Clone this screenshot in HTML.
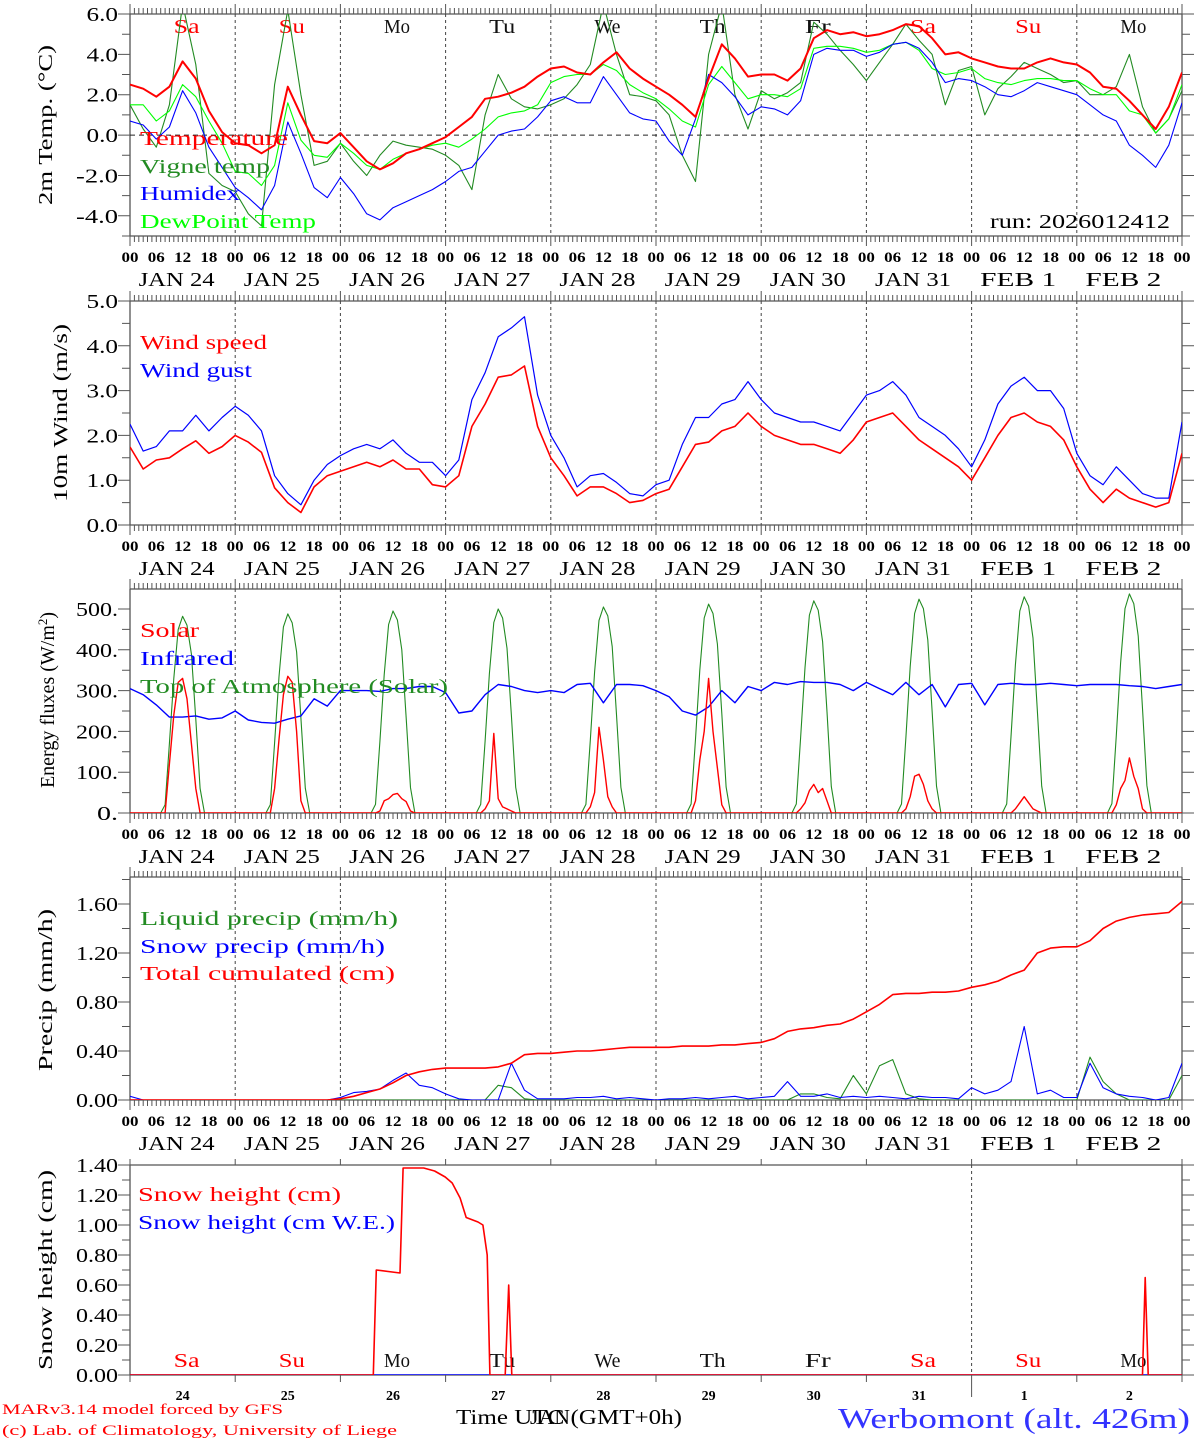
<!DOCTYPE html>
<html><head><meta charset="utf-8"><title>MAR forecast Werbomont</title>
<style>
html,body{margin:0;padding:0;background:#fff;}
svg{display:block;font-family:"Liberation Serif",serif;}
</style></head>
<body>
<svg id="chart" width="1194" height="1440" viewBox="0 0 1194 1440" xmlns="http://www.w3.org/2000/svg">
<rect x="0" y="0" width="1194" height="1440" fill="#fff"/>
<g id="layer"></g>
<!-- axis titles -->
<text transform="translate(52,125) rotate(-90)" text-anchor="middle" font-size="20" textLength="160" lengthAdjust="spacingAndGlyphs">2m Temp. (°C)</text>
<text transform="translate(67,413) rotate(-90)" text-anchor="middle" font-size="20" textLength="178" lengthAdjust="spacingAndGlyphs">10m Wind (m/s)</text>
<text transform="translate(54,700) rotate(-90)" text-anchor="middle" font-size="20">Energy fluxes (W/m<tspan baseline-shift="super" font-size="13">2</tspan>)</text>
<text transform="translate(52,990) rotate(-90)" text-anchor="middle" font-size="20" textLength="162" lengthAdjust="spacingAndGlyphs">Precip (mm/h)</text>
<text transform="translate(52,1270) rotate(-90)" text-anchor="middle" font-size="20" textLength="200" lengthAdjust="spacingAndGlyphs">Snow height (cm)</text>
<!-- legends -->
<g font-size="20">
<text x="140" y="145" fill="#ff0000" textLength="148" lengthAdjust="spacingAndGlyphs">Temperature</text>
<text x="140" y="173" fill="#228b22" textLength="130" lengthAdjust="spacingAndGlyphs">Vigne temp</text>
<text x="140" y="200" fill="#0000ff" textLength="100" lengthAdjust="spacingAndGlyphs">Humidex</text>
<text x="140" y="228" fill="#00ff00" textLength="176" lengthAdjust="spacingAndGlyphs">DewPoint Temp</text>
<text x="990" y="228" fill="#000" textLength="180" lengthAdjust="spacingAndGlyphs">run: 2026012412</text>
</g>
<g font-size="20">
<text x="140" y="349" fill="#ff0000" textLength="127" lengthAdjust="spacingAndGlyphs">Wind speed</text>
<text x="140" y="377" fill="#0000ff" textLength="112" lengthAdjust="spacingAndGlyphs">Wind gust</text>
</g>
<g font-size="20">
<text x="140" y="637" fill="#ff0000" textLength="59" lengthAdjust="spacingAndGlyphs">Solar</text>
<text x="140" y="665" fill="#0000ff" textLength="94" lengthAdjust="spacingAndGlyphs">Infrared</text>
<text x="140" y="693" fill="#228b22" textLength="308" lengthAdjust="spacingAndGlyphs">Top of Atmosphere (Solar)</text>
</g>
<g font-size="20">
<text x="140" y="925" fill="#228b22" textLength="258" lengthAdjust="spacingAndGlyphs">Liquid precip (mm/h)</text>
<text x="140" y="953" fill="#0000ff" textLength="245" lengthAdjust="spacingAndGlyphs">Snow precip (mm/h)</text>
<text x="140" y="980" fill="#ff0000" textLength="255" lengthAdjust="spacingAndGlyphs">Total cumulated (cm)</text>
</g>
<g font-size="20">
<text x="138" y="1201" fill="#ff0000" textLength="203" lengthAdjust="spacingAndGlyphs">Snow height (cm)</text>
<text x="138" y="1229" fill="#0000ff" textLength="257" lengthAdjust="spacingAndGlyphs">Snow height (cm W.E.)</text>
</g>
<!-- footer -->
<text x="2" y="1414" font-size="15" fill="#ff0000" textLength="281" lengthAdjust="spacingAndGlyphs">MARv3.14 model forced by GFS</text>
<text x="2" y="1435" font-size="15" fill="#ff0000" textLength="395" lengthAdjust="spacingAndGlyphs">(c) Lab. of Climatology, University of Liege</text>
<text x="456" y="1424" font-size="21" textLength="226" lengthAdjust="spacingAndGlyphs">Time UTC (GMT+0h)</text>
<text x="530" y="1424" font-size="21" textLength="40" lengthAdjust="spacingAndGlyphs">JAN</text>
<text x="838" y="1428" font-size="28" fill="#3333ff" textLength="352" lengthAdjust="spacingAndGlyphs">Werbomont (alt. 426m)</text>
</svg>
<script>
// ---------- data (3-hourly from JAN 24 00 UTC) ----------
const dayLabels = ["JAN  24","JAN  25","JAN  26","JAN  27","JAN  28","JAN  29","JAN  30","JAN  31","FEB   1","FEB   2"];
const dayNames = ["Sa","Su","Mo","Tu","We","Th","Fr","Sa","Su","Mo"];
const dayNumbers = ["24","25","26","27","28","29","30","31","1","2"];
const hourLabels = ["00","06","12","18"];
const tempTicks = ["-4.0","-2.0","0.0","2.0","4.0","6.0"];
const windTicks = ["0.0","1.0","2.0","3.0","4.0","5.0"];
const energyTicks = ["0.","100.","200.","300.","400.","500."];
const precipTicks = ["0.00","0.40","0.80","1.20","1.60"];
const snowTicks = ["0.00","0.20","0.40","0.60","0.80","1.00","1.20","1.40"];

const temperature = [2.5,2.3,1.9,2.4,3.65,2.8,1.2,0.15,
-0.4,-0.5,-0.9,-0.5,2.4,1.0,-0.3,-0.4,
0.1,-0.6,-1.3,-1.7,-1.4,-0.9,-0.7,-0.4,
-0.1,0.4,0.9,1.8,1.9,2.1,2.4,2.9,
3.3,3.4,3.1,3.0,3.6,4.1,3.3,2.8,
2.4,2.0,1.5,0.9,2.8,4.5,3.8,2.9,
3.0,3.0,2.7,3.3,4.8,5.2,5.0,5.1,
4.9,5.0,5.2,5.5,5.4,4.8,4.0,4.1,
3.8,3.6,3.4,3.3,3.3,3.6,3.8,3.6,
3.5,3.1,2.4,2.3,1.7,1.0,0.3,1.4,
3.1];
const vigne = [1.5,0.3,-0.6,1.5,6.5,3.5,-1.9,-2.5,
-2.8,-3.9,-4.5,2.5,6.2,2.0,-1.5,-1.3,
-0.4,-1.3,-2.0,-1.0,-0.3,-0.5,-0.6,-0.7,
-1.0,-1.5,-2.7,1.0,3.0,1.8,1.4,1.3,
1.5,1.8,2.5,3.5,6.5,4.0,2.0,1.9,
1.7,1.0,-1.0,-2.3,4.0,6.5,2.0,0.3,
2.2,1.8,2.1,2.6,5.6,5.0,4.2,3.5,
2.7,3.6,4.5,5.5,4.7,4.0,1.5,3.2,
3.4,1.0,2.3,2.9,3.6,3.3,3.0,2.6,
2.7,2.0,2.0,2.4,4.0,1.4,0.1,0.8,
2.2];
const humidex = [0.7,0.5,-0.2,0.4,2.2,1.1,-0.6,-1.6,
-2.6,-3.1,-3.7,-2.5,0.65,-0.9,-2.6,-3.1,
-2.1,-2.9,-3.9,-4.2,-3.6,-3.3,-3.0,-2.7,
-2.3,-1.8,-1.6,-0.8,0.0,0.2,0.3,0.9,
1.7,1.9,1.6,1.6,2.9,2.0,1.1,0.8,
0.7,-0.3,-1.0,0.8,3.0,2.6,1.9,1.0,
1.4,1.3,1.0,1.7,4.0,4.3,4.2,4.2,
3.9,4.1,4.5,4.6,4.3,3.6,2.6,2.8,
2.7,2.4,2.0,1.9,2.2,2.6,2.4,2.2,
2.0,1.5,1.0,0.7,-0.5,-1.0,-1.6,-0.5,
1.6];
const dewpoint = [1.5,1.5,0.7,1.2,2.5,1.9,0.7,-0.4,
-1.8,-1.9,-2.5,-1.5,1.6,-0.25,-1.0,-1.1,
-0.4,-0.9,-1.5,-1.7,-1.2,-0.9,-0.7,-0.5,
-0.4,-0.6,-0.2,0.3,0.9,1.1,1.2,1.5,
2.6,2.9,3.0,3.0,3.5,3.2,2.5,2.1,
1.8,1.3,0.7,0.4,2.5,3.4,2.6,1.8,
2.0,2.0,1.9,2.3,4.3,4.4,4.4,4.3,
4.1,4.2,4.5,4.6,4.2,3.3,3.0,3.1,
3.3,2.8,2.6,2.5,2.7,2.8,2.8,2.7,
2.7,2.3,2.0,2.0,1.2,1.0,0.1,0.8,
2.5];
const windSpeed = [1.74,1.25,1.45,1.5,1.7,1.88,1.6,1.75,
2.0,1.85,1.62,0.83,0.5,0.28,0.85,1.1,
1.2,1.3,1.4,1.3,1.45,1.25,1.25,0.9,
0.85,1.1,2.2,2.7,3.3,3.35,3.55,2.2,
1.5,1.1,0.65,0.85,0.85,0.7,0.5,0.55,
0.7,0.8,1.3,1.8,1.85,2.1,2.2,2.5,
2.2,2.0,1.9,1.8,1.8,1.7,1.6,1.9,
2.3,2.4,2.5,2.2,1.9,1.7,1.5,1.3,
1.0,1.5,2.0,2.4,2.5,2.3,2.2,1.9,
1.3,0.8,0.5,0.8,0.6,0.5,0.4,0.5,
1.6];
const windGust = [2.25,1.65,1.75,2.1,2.1,2.45,2.1,2.4,
2.65,2.45,2.1,1.1,0.7,0.45,1.0,1.35,
1.55,1.7,1.8,1.7,1.9,1.6,1.4,1.4,
1.1,1.45,2.8,3.4,4.2,4.4,4.65,2.9,
2.0,1.5,0.85,1.1,1.15,0.95,0.7,0.65,
0.9,1.0,1.8,2.4,2.4,2.7,2.8,3.2,
2.8,2.5,2.4,2.3,2.3,2.2,2.1,2.5,
2.9,3.0,3.2,2.9,2.4,2.2,2.0,1.7,
1.3,1.9,2.7,3.1,3.3,3.0,3.0,2.6,
1.6,1.1,0.9,1.3,1.0,0.7,0.6,0.6,
2.3];
const infrared = [305,290,265,235,235,238,230,233,
250,228,222,220,230,238,280,262,
300,300,300,298,305,305,310,310,
295,245,250,290,315,310,300,295,
300,295,315,318,270,315,315,312,
300,285,250,240,260,300,270,310,
300,320,315,322,320,320,315,300,
320,305,290,320,290,315,260,315,
318,265,315,318,315,315,318,315,
312,315,315,315,312,310,305,310,
315];
// daylight hourly values, hours 07..17 of each day
const toaDaily = [
[0,20,170,330,450,482,460,390,230,60,0],
[0,20,172,334,456,488,466,395,233,61,0],
[0,21,175,339,462,495,473,400,236,62,0],
[0,21,176,342,467,500,478,404,239,63,0],
[0,21,178,346,472,505,483,408,241,63,0],
[0,22,181,350,478,512,489,414,244,64,0],
[0,22,184,356,485,520,497,420,248,65,0],
[0,22,185,359,489,524,501,424,250,66,0],
[0,22,187,363,495,530,507,429,253,66,0],
[0,23,190,368,501,537,513,434,256,67,0]];
const solarDaily = [
[0,0,120,240,320,330,280,170,60,0,0],
[0,0,60,180,290,335,320,200,30,0,0],
[0,0,5,30,35,45,48,35,28,5,0],
[0,0,10,30,195,35,15,10,5,0,0],
[0,0,15,50,210,130,40,15,0,0,0],
[0,0,30,130,200,330,200,110,20,0,0],
[0,0,10,25,55,70,50,60,30,0,0],
[0,0,10,40,90,95,70,30,10,0,0],
[0,0,0,10,25,40,25,10,5,0,0],
[0,0,20,60,80,135,90,60,10,0,0]];
const cumulated = [0,0,0,0,0,0,0,0,
0,0,0,0,0,0,0,0,
0.01,0.03,0.06,0.09,0.14,0.20,0.23,0.25,
0.26,0.26,0.26,0.26,0.27,0.30,0.37,0.38,
0.38,0.39,0.40,0.40,0.41,0.42,0.43,0.43,
0.43,0.43,0.44,0.44,0.44,0.45,0.45,0.46,
0.47,0.50,0.56,0.58,0.59,0.61,0.62,0.66,
0.72,0.78,0.86,0.87,0.87,0.88,0.88,0.89,
0.92,0.94,0.97,1.02,1.06,1.20,1.24,1.25,
1.25,1.30,1.40,1.46,1.49,1.51,1.52,1.53,
1.62];
const snowPrecip = [0.03,0,0,0,0,0,0,0,
0,0,0,0,0,0,0,0,
0.02,0.06,0.07,0.09,0.16,0.22,0.12,0.10,
0.05,0.01,0,0,0,0.30,0.08,0.01,
0.01,0.01,0.02,0.02,0.03,0.01,0.02,0.01,
0,0.01,0.01,0.02,0.01,0.02,0.03,0.01,
0.02,0.03,0.15,0.03,0.03,0.05,0.02,0.03,
0.02,0.03,0.02,0.01,0.03,0.02,0.02,0.01,
0.10,0.05,0.08,0.15,0.60,0.05,0.08,0.02,
0.02,0.30,0.10,0.05,0.03,0.02,0,0.02,
0.30];
const liquidPrecip = [0,0,0,0,0,0,0,0,
0,0,0,0,0,0,0,0,
0,0,0,0,0,0,0,0,
0,0,0,0,0.12,0.10,0.01,0,
0,0,0,0,0,0,0,0,
0,0,0,0,0,0,0,0,
0,0,0,0.05,0.05,0.02,0.01,0.20,
0.05,0.28,0.33,0.05,0.01,0,0,0,
0,0,0,0,0,0,0,0,
0,0.35,0.15,0.05,0,0,0,0,
0.20];
const snowHours = [0,55.5,56.2,61.6,62.3,67,69.5,71.9,73.5,75.3,76.7,79.4,80.5,81.5,82.1,85.6,86.4,87.1,231,231.6,232.3,240];
const snowHeight = [0,0,0.70,0.68,1.38,1.38,1.36,1.32,1.28,1.18,1.05,1.02,1.00,0.80,0,0,0.60,0,0,0.65,0,0];

// ---------- drawing ----------
const NS = "http://www.w3.org/2000/svg";
const layer = document.getElementById("layer");
const L = 130, R = 1182, HOURS = 240;
const X = h => L + h * (R - L) / HOURS;
function mk(tag, attrs, parent) {
  const e = document.createElementNS(NS, tag);
  for (const k in attrs) e.setAttribute(k, attrs[k]);
  (parent || layer).appendChild(e);
  return e;
}
const panels = [
  {key:"temp", top:14, bot:236, min:-5, max:6, major:2, minor:1, ticks:tempTicks, tickStart:-4, full:true},
  {key:"wind", top:301, bot:525, min:0, max:5, major:1, minor:0.5, ticks:windTicks, tickStart:0, full:true},
  {key:"energy", top:589, bot:813, min:0, max:549, major:100, minor:50, ticks:energyTicks, tickStart:0, full:true},
  {key:"precip", top:877, bot:1100, min:0, max:1.82, major:0.4, minor:0.2, ticks:precipTicks, tickStart:0, full:true},
  {key:"snow", top:1165, bot:1375, min:0, max:1.4, major:0.2, minor:0.1, ticks:snowTicks, tickStart:0, full:false}
];
panels.forEach(p => { p.Y = v => p.bot - (v - p.min) * (p.bot - p.top) / (p.max - p.min); });

function series(p, hours, vals, color, width, name) {
  const pts = vals.map((v, i) => X(hours[i]).toFixed(1) + "," + p.Y(v).toFixed(1)).join(" ");
  const pl = mk("polyline", {points: pts, fill: "none", stroke: color, "stroke-width": width, "stroke-linejoin": "round", "clip-path": "url(#clip-" + p.key + ")"});
  
  
}
const defs = mk("defs", {});
panels.forEach(p => {
  const cp = mk("clipPath", {id: "clip-" + p.key}, defs);
  mk("rect", {x: L, y: p.top, width: R - L, height: p.bot - p.top}, cp);
});

const hrs3 = temperature.map((v, i) => i * 3);

panels.forEach((p, pi) => {
  const g = mk("g", {});
  
  
  const fr = mk("path", {d: `M${L},${p.top}H${R}M${L},${p.bot}H${R}M${L},${p.top}V${p.bot}M${R},${p.top}V${p.bot}`, stroke: "#555", "stroke-width": 1.3, fill: "none"}, g);
  
  
  for (let d = 1; d < 10; d++) {
    if (!p.full && d !== 8) continue;
    const ln = mk("line", {x1: X(d * 24), x2: X(d * 24), y1: p.top, y2: p.bot, stroke: "#444", "stroke-width": 1, "stroke-dasharray": "3,3"}, g);
    
    
  }
  let d = "";
  if (p.full) {
    for (let h = 0; h <= 240; h++) {
      const len = h % 24 === 0 ? 10 : 6;
      d += `M${X(h).toFixed(1)},${p.top}v${-len}M${X(h).toFixed(1)},${p.bot}v${len}`;
    }
  } else {
    for (let dd = 0; dd <= 10; dd++) {
      d += `M${X(dd * 24).toFixed(1)},${p.top}v-6M${X(dd * 24).toFixed(1)},${p.bot}v${dd===8?22:7}`;
    }
  }
  for (let v = p.min; v <= p.max + 1e-9; v += p.minor) {
    const rv = Math.round(v / p.minor) * p.minor;
    const isMaj = Math.abs(rv / p.major - Math.round(rv / p.major)) < 1e-6;
    const len = isMaj ? 12 : 8;
    d += `M${L},${p.Y(rv).toFixed(1)}h${-len}M${R},${p.Y(rv).toFixed(1)}h${len}`;
  }
  const tk = mk("path", {d: d, stroke: "#555", "stroke-width": 1}, g);
  
  
  p.ticks.forEach((t, i) => {
    const v = p.tickStart + i * p.major;
    const tx = mk("text", {x: 118, y: p.Y(v) + 7, "text-anchor": "end", "font-size": 20, textLength: t.length * 10.5, lengthAdjust: "spacingAndGlyphs"}, g);
    tx.textContent = t;
    
    
  });
  if (p.full) {
    for (let h = 0; h <= 240; h += 6) {
      const tx = mk("text", {x: X(h), y: p.bot + 26, "text-anchor": "middle", "font-size": 15, "font-weight": "bold", textLength: 17, lengthAdjust: "spacingAndGlyphs"}, g);
      tx.textContent = hourLabels[(h / 6) % 4];
      
      
    }
    dayLabels.forEach((t, i) => {
      const tx = mk("text", {x: X(i * 24 + 12) - 6, y: p.bot + 50, "text-anchor": "middle", "font-size": 20, textLength: 76, lengthAdjust: "spacingAndGlyphs"}, g);
      tx.textContent = t;
      
      
    });
  } else {
    dayNumbers.forEach((t, i) => {
      const tx = mk("text", {x: X(i * 24 + 12), y: p.bot + 25, "text-anchor": "middle", "font-size": 14, "font-weight": "bold"}, g);
      tx.textContent = t;
      
      
    });
  }
});

const zl = mk("line", {x1: L, x2: R, y1: panels[0].Y(0), y2: panels[0].Y(0), stroke: "#222", "stroke-width": 1, "stroke-dasharray": "5,4"});



dayNames.forEach((t, i) => {
  const col = (i === 0 || i === 1 || i === 7 || i === 8) ? "#ff0000" : "#111";
  [[0, 33], [4, 1367]].forEach(([pi, y]) => {
    const tx = mk("text", {x: X(i * 24 + 12) + 4, y: y, "text-anchor": "middle", "font-size": 20, fill: col, textLength: 26, lengthAdjust: "spacingAndGlyphs"});
    tx.textContent = t;
    
    
  });
});

const P = panels;
series(P[0], hrs3, vigne, "#228b22", 1.1, "vigne-temp-line");
series(P[0], hrs3, dewpoint, "#00ff00", 1.1, "dewpoint-line");
series(P[0], hrs3, humidex, "#0000ff", 1.1, "humidex-line");
series(P[0], hrs3, temperature, "#ff0000", 2, "temperature-line");
series(P[1], hrs3, windGust, "#0000ff", 1.2, "wind-gust-line");
series(P[1], hrs3, windSpeed, "#ff0000", 1.6, "wind-speed-line");
function dailySeries(arr) {
  const hh = [], vv = [];
  arr.forEach((row, d) => {
    hh.push(d * 24); vv.push(0);
    row.forEach((v, k) => { hh.push(d * 24 + 7 + k); vv.push(v); });
  });
  hh.push(240); vv.push(0);
  return [hh, vv];
}
const [th, tv] = dailySeries(toaDaily);
series(P[2], th, tv, "#228b22", 1.1, "toa-solar-line");
series(P[2], hrs3, infrared, "#0000ff", 1.4, "infrared-line");
const [sh, sv] = dailySeries(solarDaily);
series(P[2], sh, sv, "#ff0000", 1.4, "solar-line");
series(P[3], hrs3, liquidPrecip, "#228b22", 1.1, "liquid-precip-line");
series(P[3], hrs3, snowPrecip, "#0000ff", 1.1, "snow-precip-line");
series(P[3], hrs3, cumulated, "#ff0000", 1.6, "cumulated-precip-line");
series(P[4], [0, 240], [0, 0], "#0000ff", 1.4, "snow-we-line");
series(P[4], snowHours, snowHeight, "#ff0000", 1.6, "snow-height-line");
</script>
</body></html>
